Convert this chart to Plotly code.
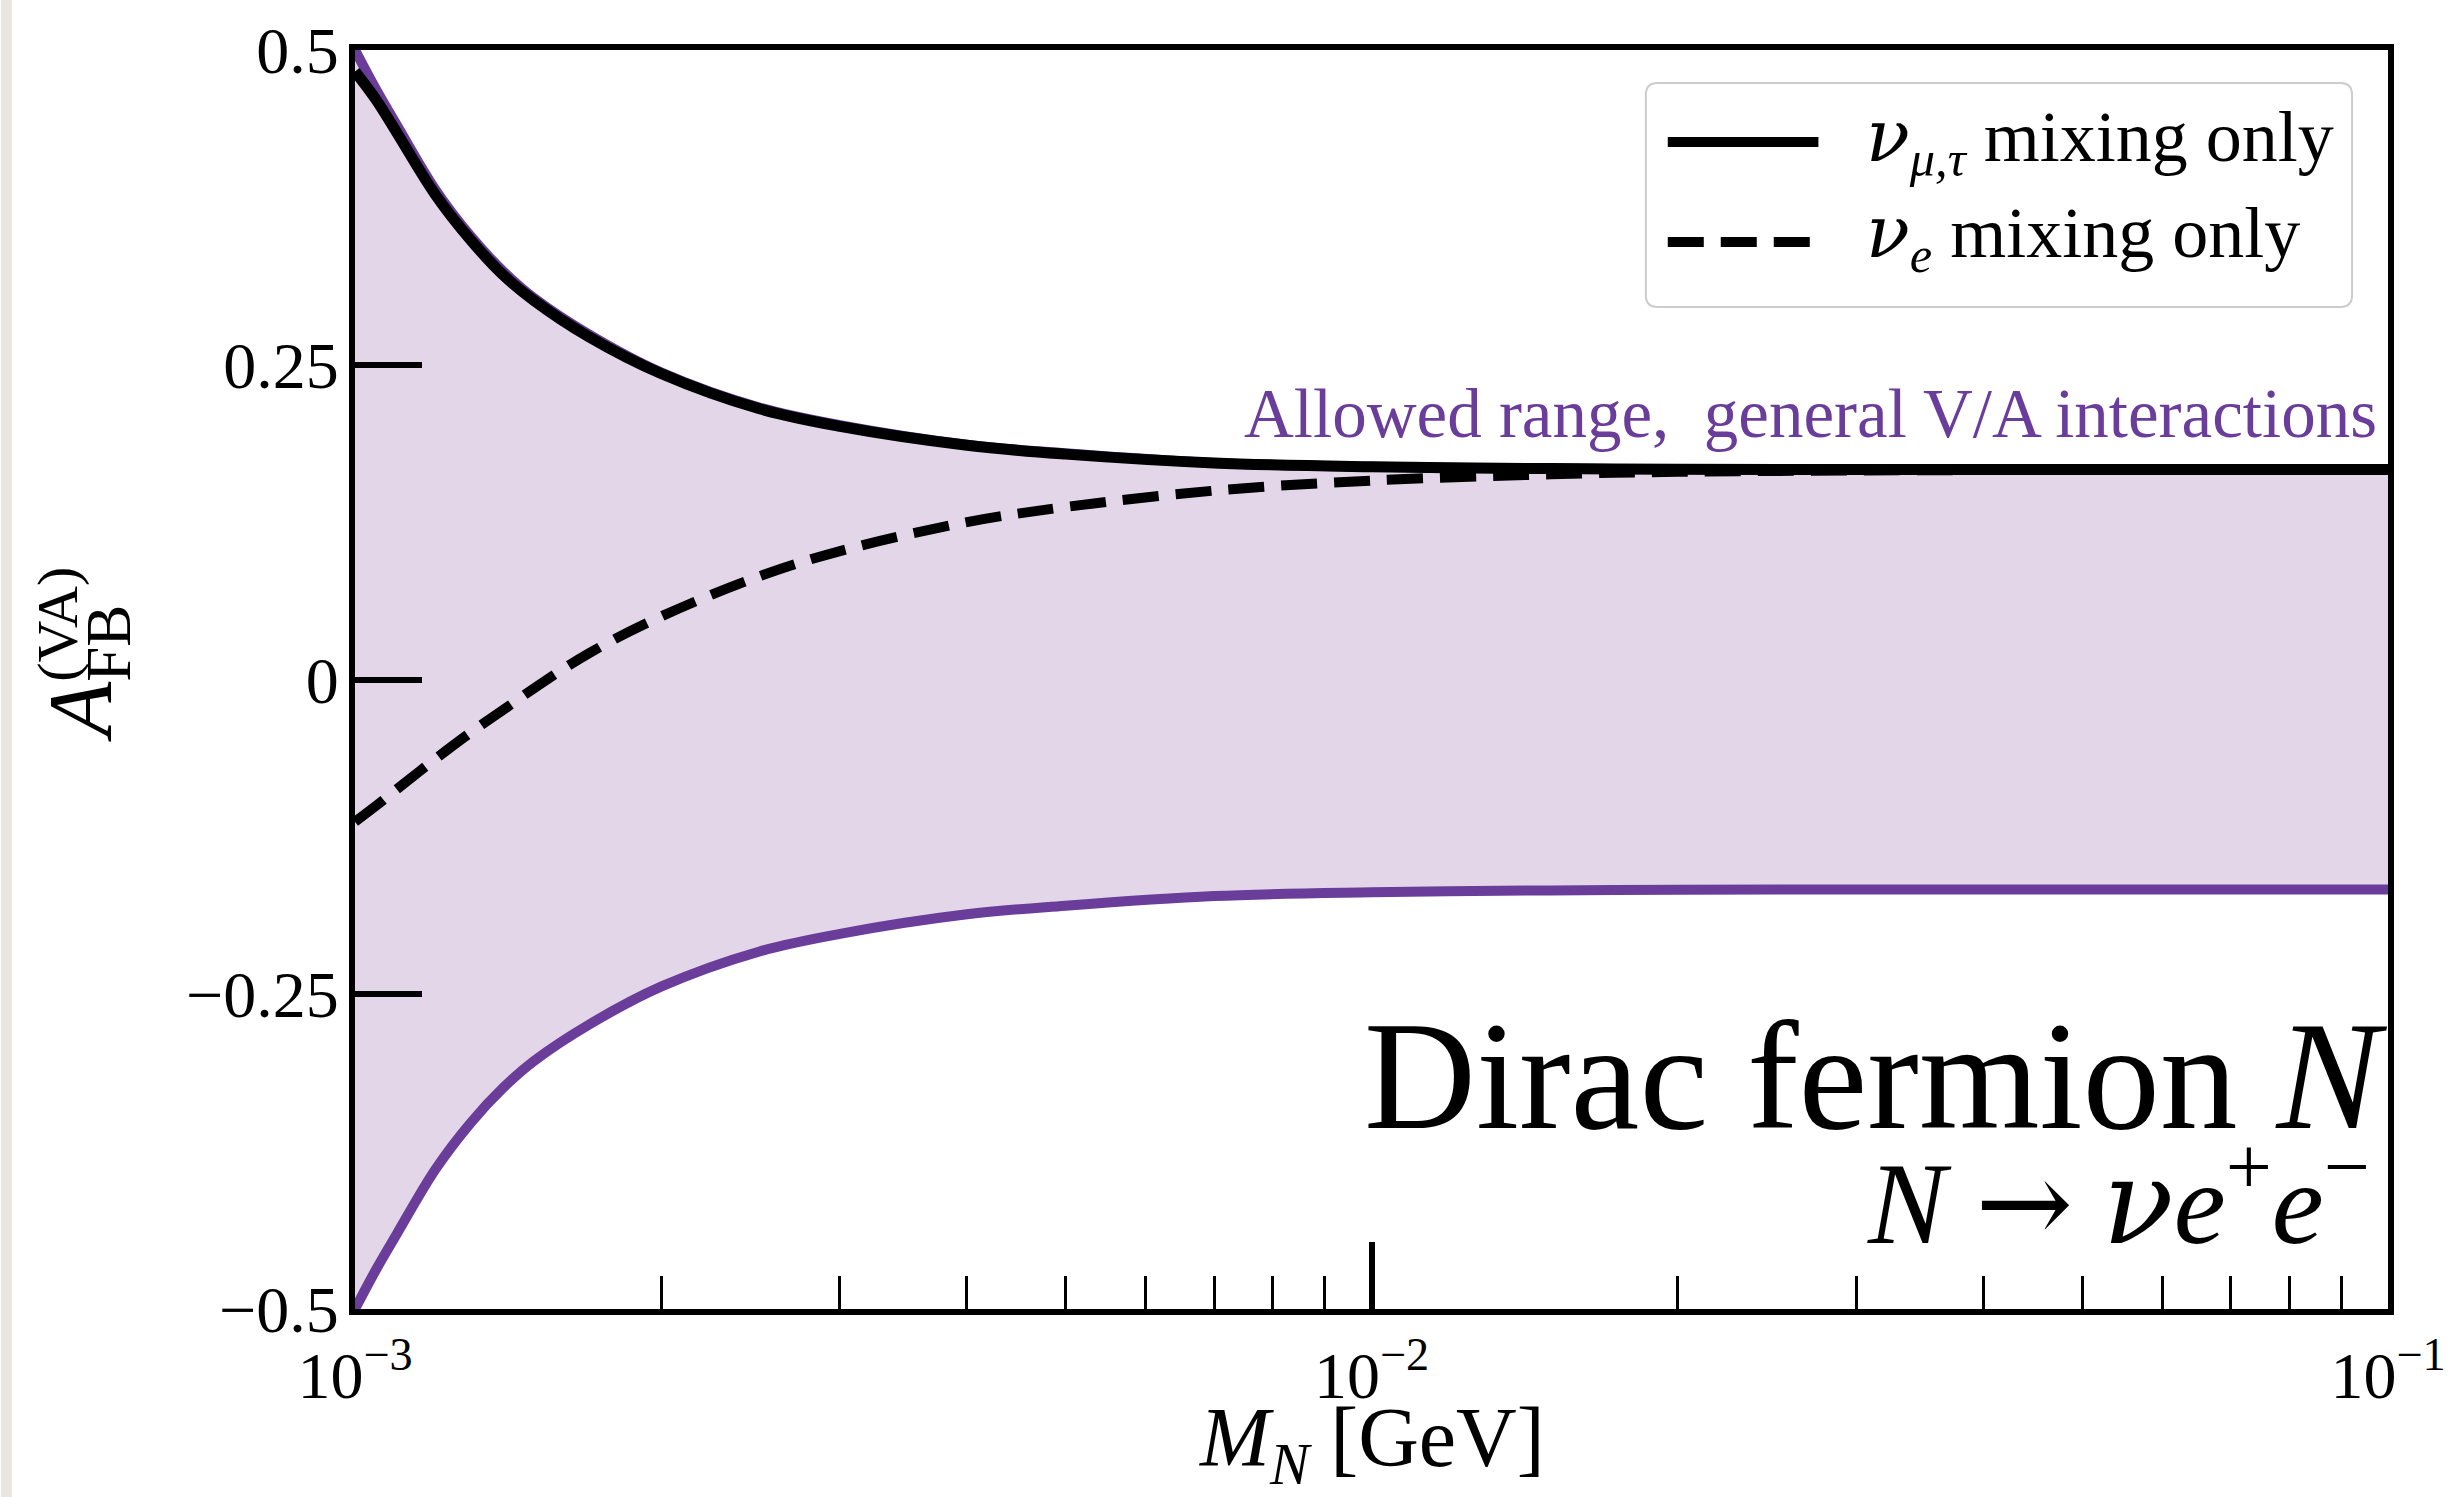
import plotly.graph_objects as go

# ---------------- data ----------------
M_N = [1.0e-3, 1.05e-3, 1.1e-3, 1.2e-3, 1.3e-3, 1.4e-3, 1.5e-3, 1.7e-3, 2.0e-3, 2.5e-3,
       3.0e-3, 4.0e-3, 5.0e-3, 7.0e-3, 1.0e-2, 1.5e-2, 2.0e-2, 3.0e-2, 5.0e-2, 1.0e-1]

ALLOWED_UPPER = [0.500, 0.468, 0.440, 0.389, 0.352, 0.324, 0.303, 0.274, 0.244, 0.216,
                 0.202, 0.1865, 0.1797, 0.172, 0.169, 0.1675, 0.167, 0.1668, 0.1667, 0.1667]
ALLOWED_LOWER = [-0.500, -0.468, -0.440, -0.389, -0.352, -0.324, -0.303, -0.274, -0.244, -0.216,
                 -0.202, -0.1865, -0.1797, -0.172, -0.169, -0.1675, -0.167, -0.1668, -0.1667, -0.1667]
MU_TAU_MIXING = [0.483, 0.460, 0.434, 0.385, 0.349, 0.321, 0.301, 0.272, 0.243, 0.215,
                 0.201, 0.186, 0.179, 0.172, 0.169, 0.1675, 0.167, 0.1668, 0.1667, 0.1667]
E_MIXING = [-0.113, -0.100, -0.087, -0.063, -0.042, -0.024, -0.007, 0.021, 0.050, 0.082,
            0.102, 0.125, 0.137, 0.150, 0.158, 0.163, 0.165, 0.166, 0.1665, 0.1667]

Y_TICKS = [-0.5, -0.25, 0, 0.25, 0.5]
Y_TICK_TEXT = ["\u22120.5", "\u22120.25", "0", "0.25", "0.5"]
X_TICKS = [1e-3, 1e-2, 1e-1]
X_TICK_TEXT = ["10<sup>\u22123</sup>", "10<sup>\u22122</sup>", "10<sup>\u22121</sup>"]
X_MINOR = [2e-3, 3e-3, 4e-3, 5e-3, 6e-3, 7e-3, 8e-3, 9e-3,
           2e-2, 3e-2, 4e-2, 5e-2, 6e-2, 7e-2, 8e-2, 9e-2]

NU = "<span style=\"font-family:'DejaVu Serif'\"><i>\u03bd</i></span>"
LEGEND_LABELS = [NU + "<sub><i>\u03bc,\u03c4</i></sub> mixing only",
                 NU + "<sub><i>e</i></sub> mixing only"]

# ---------------- layout helpers ----------------
W, H = 2458, 1497
L, R, T, B = 355, 2393, 50, 1309


def px(x):
    return (x - L) / (R - L)


def py(y):
    return (B - y) / (B - T)


PURPLE = "#6a3d9a"
FILL = "#e2d6e8"
FONT = "Liberation Serif"
DASH = "36px,17px"

fig = go.Figure()

# allowed band
fig.add_trace(go.Scatter(x=M_N, y=ALLOWED_UPPER, mode="lines",
                         line=dict(width=0, color=PURPLE, shape="spline"),
                         showlegend=False, hoverinfo="skip"))
fig.add_trace(go.Scatter(x=M_N, y=ALLOWED_LOWER, mode="lines", fill="tonexty",
                         fillcolor=FILL, line=dict(width=0, color=PURPLE, shape="spline"),
                         showlegend=False, hoverinfo="skip"))
fig.add_trace(go.Scatter(x=M_N, y=ALLOWED_UPPER, mode="lines",
                         line=dict(width=10, color=PURPLE, shape="spline"),
                         showlegend=False))
fig.add_trace(go.Scatter(x=M_N, y=ALLOWED_LOWER, mode="lines",
                         line=dict(width=10, color=PURPLE, shape="spline"),
                         showlegend=False))
# curves
fig.add_trace(go.Scatter(x=M_N, y=MU_TAU_MIXING, mode="lines",
                         line=dict(width=11, color="black", shape="spline"),
                         name="nu_mu,tau mixing only", showlegend=False))
fig.add_trace(go.Scatter(x=M_N, y=E_MIXING, mode="lines",
                         line=dict(width=10, color="black", dash=DASH, shape="spline"),
                         name="nu_e mixing only", showlegend=False))

axis_common = dict(showline=True, linecolor="black", linewidth=6, mirror=True,
                   ticks="inside", ticklen=67, tickwidth=6, tickcolor="black",
                   showgrid=False, zeroline=False,
                   tickfont=dict(family=FONT, size=66, color="black"))

fig.update_xaxes(type="log", range=[-3, -1], tickmode="array", tickvals=X_TICKS,
                 ticktext=X_TICK_TEXT, ticklabelstandoff=4,
                 minor=dict(tickmode="array", tickvals=X_MINOR, ticks="inside", ticklen=33,
                            tickwidth=3, tickcolor="black", showgrid=False),
                 **axis_common)
fig.update_yaxes(range=[-0.5, 0.5], tickmode="array", tickvals=Y_TICKS,
                 ticktext=Y_TICK_TEXT, ticklabelstandoff=-3, **axis_common)

annotations = []


def ann(text, x, y, size, color="black", xanchor="center", yanchor="middle", angle=0):
    annotations.append(dict(text=text, x=px(x), y=py(y), xref="paper", yref="paper",
                            xanchor=xanchor, yanchor=yanchor, showarrow=False,
                            textangle=angle,
                            font=dict(family=FONT, size=size, color=color)))


ann("Allowed range,&nbsp; general V/A interactions", 2384, 414, 69, PURPLE, xanchor="right")
ann("Dirac fermion <i>N</i>", 2394, 1076, 155, xanchor="right")
ann("<i>N</i>&nbsp;<span style=\"font-family:'DejaVu Serif'\">\u2192</span>&nbsp;"
    + "<span style=\"font-family:'DejaVu Serif'\"><i>\u03bd</i></span>"
    + "<i>e</i><sup>+</sup><i>e</i><sup>\u2212</sup>", 2377, 1196, 117, xanchor="right")
ann("<i>M</i><sub><i>N</i></sub> [GeV]", 1374, 1444, 84)
ann("<i>A</i><sub>FB</sub>", 86, 673, 90, angle=-90)
ann("(VA)", 56, 624, 58, angle=-90)
# legend text
ann(LEGEND_LABELS[0], 1868, 140, 72, xanchor="left")
ann(LEGEND_LABELS[1], 1868, 236, 72, xanchor="left")

# custom legend frame (rounded) and samples
x0, x1, y0, y1 = 1649, 2357, 83, 307
r = 12
rx, ry = r / (R - L), r / (B - T)
X0, X1, Y0, Y1 = px(x0), px(x1), py(y1), py(y0)
path = (f"M {X0 + rx},{Y0} L {X1 - rx},{Y0} Q {X1},{Y0} {X1},{Y0 + ry} "
        f"L {X1},{Y1 - ry} Q {X1},{Y1} {X1 - rx},{Y1} L {X0 + rx},{Y1} "
        f"Q {X0},{Y1} {X0},{Y1 - ry} L {X0},{Y0 + ry} Q {X0},{Y0} {X0 + rx},{Y0} Z")
shapes = [
    dict(type="path", path=path, xref="paper", yref="paper",
         line=dict(color="#cccccc", width=2), fillcolor="rgba(255,255,255,0.8)"),
    dict(type="line", xref="paper", yref="paper", x0=px(1671), x1=px(1822), y0=py(142), y1=py(142),
         line=dict(color="black", width=10)),
    dict(type="line", xref="paper", yref="paper", x0=px(1671), x1=px(1822), y0=py(242), y1=py(242),
         line=dict(color="black", width=10, dash=DASH)),
    # textured page edge on the left
    dict(type="rect", xref="paper", yref="paper", x0=px(0), x1=px(11), y0=py(H), y1=py(0),
         line=dict(width=0), fillcolor="#e9e6e0"),
]

fig.update_layout(width=W, height=H, autosize=False,
                  margin=dict(l=L, r=W - R, t=T, b=H - B, pad=0),
                  paper_bgcolor="white", plot_bgcolor="white",
                  showlegend=False, annotations=annotations, shapes=shapes,
                  font=dict(family=FONT, color="black"))

fig.write_html("out.html", config={"displayModeBar": False},
               post_script="document.body.style.margin='0';document.body.style.overflow='hidden';")
